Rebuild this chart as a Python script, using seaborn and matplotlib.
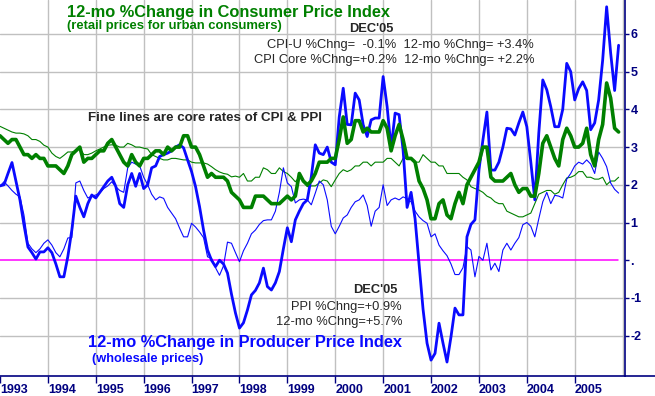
import numpy as np
import pandas as pd
import seaborn as sns
import matplotlib
matplotlib.use("Agg")
import matplotlib.pyplot as plt
from matplotlib.lines import Line2D

# 12-month % change, monthly Jan 1993 .. Dec 2005
cpi = [
    3.3, 3.2, 3.1, 3.2, 3.2, 3.0, 2.8, 2.8, 2.7, 2.8, 2.7, 2.7,
    2.5, 2.5, 2.5, 2.4, 2.3, 2.5, 2.8, 2.9, 3.0, 2.6, 2.7, 2.7,
    2.8, 2.9, 2.9, 3.1, 3.2, 3.0, 2.8, 2.6, 2.5, 2.8, 2.6, 2.5,
    2.7, 2.7, 2.8, 2.9, 2.9, 2.8, 3.0, 2.9, 3.0, 3.0, 3.3, 3.3,
    3.0, 3.0, 2.8, 2.5, 2.2, 2.3, 2.2, 2.2, 2.2, 2.1, 1.8, 1.7,
    1.6, 1.4, 1.4, 1.4, 1.7, 1.7, 1.7, 1.6, 1.5, 1.5, 1.5, 1.6,
    1.7, 1.6, 1.7, 2.3, 2.1, 2.0, 2.1, 2.3, 2.6, 2.6, 2.6, 2.7,
    2.7, 3.2, 3.8, 3.1, 3.2, 3.7, 3.7, 3.4, 3.5, 3.4, 3.4, 3.4,
    3.7, 3.5, 2.9, 3.3, 3.6, 3.2, 2.7, 2.7, 2.6, 2.1, 1.9, 1.6,
    1.1, 1.1, 1.5, 1.6, 1.2, 1.1, 1.5, 1.8, 1.5, 2.0, 2.2, 2.4,
    2.6, 3.0, 3.0, 2.2, 2.1, 2.1, 2.1, 2.2, 2.3, 2.0, 1.8, 1.9,
    1.9, 1.7, 1.7, 2.3, 3.1, 3.3, 3.0, 2.7, 2.5, 3.2, 3.5, 3.3,
    3.0, 3.0, 3.1, 3.5, 2.8, 2.5, 3.2, 3.6, 4.7, 4.3, 3.5, 3.4,
]
cpi_core = [
    3.55, 3.5, 3.45, 3.4, 3.37, 3.37, 3.35, 3.3, 3.2, 3.2, 3.15, 3.05,
    3.0, 2.84, 2.75, 2.7, 2.78, 2.87, 2.87, 2.9, 2.97, 2.8, 2.8, 2.84,
    2.9, 2.95, 3.0, 3.05, 3.06, 3.05, 3.0, 3.0, 3.1, 3.06, 3.0, 3.0,
    2.97, 2.95, 2.8, 2.75, 2.7, 2.66, 2.66, 2.7, 2.7, 2.68, 2.66, 2.66,
    2.6, 2.58, 2.58, 2.58, 2.55, 2.48, 2.4, 2.34, 2.3, 2.28, 2.21, 2.23,
    2.2, 2.3, 2.1, 2.1, 2.2, 2.2, 2.45, 2.4, 2.3, 2.3, 2.45, 2.35,
    2.3, 2.2, 2.08, 2.2, 2.1, 1.95, 1.97, 1.97, 2.05, 2.13, 2.1, 1.95,
    2.13, 2.3, 2.4, 2.35, 2.4, 2.5, 2.5, 2.6, 2.6, 2.5, 2.6, 2.6,
    2.6, 2.7, 2.7, 2.6, 2.5, 2.7, 2.7, 2.7, 2.6, 2.6, 2.8, 2.7,
    2.6, 2.6, 2.5, 2.5, 2.3, 2.3, 2.3, 2.3, 2.2, 2.13, 1.95, 1.9,
    1.86, 1.8, 1.7, 1.65, 1.55, 1.5, 1.5, 1.3, 1.25, 1.2, 1.15, 1.15,
    1.2, 1.25, 1.5, 1.75, 1.8, 1.85, 1.85, 1.75, 1.8, 2.0, 2.18, 2.2,
    2.25, 2.35, 2.35, 2.2, 2.2, 2.15, 2.15, 2.2, 2.0, 2.1, 2.1, 2.2,
]
ppi = [
    1.97, 2.0, 2.3, 2.59, 2.1, 1.6, 0.94, 0.35, 0.2, 0.03, 0.22, 0.22,
    0.33, 0.2, -0.1, -0.44, -0.44, 0.1, 0.8, 1.7, 1.4, 1.15, 1.5, 1.73,
    1.65, 1.8, 1.95, 2.1, 2.2, 1.96, 1.5, 1.4, 2.0, 2.3, 1.96, 2.3,
    1.9, 2.0, 2.45, 2.5, 2.75, 2.8, 2.84, 2.9, 3.0, 3.06, 2.98, 2.66,
    2.35, 1.95, 1.42, 0.8, 0.27, 0.0, -0.17, 0.0, -0.1, -0.34, -0.9, -1.4,
    -1.8, -1.66, -1.32, -0.92, -0.8, -0.6, -0.21, -0.7, -0.79, -0.6, -0.3, 0.3,
    0.86, 0.49, 1.07, 1.3, 1.5, 1.6, 2.21, 3.06, 2.84, 2.8, 3.0, 2.6,
    2.53, 3.8, 4.56, 3.6, 3.59, 4.43, 4.25, 3.59, 3.28, 3.72, 3.77, 3.77,
    4.87, 4.07, 2.97, 3.9, 3.86, 2.92, 1.4, 1.8, 1.1, -0.1, -1.3, -2.2,
    -2.65, -2.47, -1.67, -2.2, -2.7, -2.03, -1.27, -1.45, -1.45, 0.62, 0.95, 1.07,
    2.39, 3.19, 3.93, 2.39, 2.39, 2.6, 3.0, 3.5, 3.48, 3.32, 3.64, 3.93,
    3.54, 2.6, 1.6, 3.37, 4.78, 4.52, 4.07, 3.54, 3.54, 4.0, 5.22, 5.0,
    4.25, 4.55, 4.73, 4.5, 3.46, 3.64, 4.25, 5.3, 6.72, 5.5, 4.5, 5.7,
]
ppi_core = [
    1.97, 2.08, 1.97, 1.85, 1.75, 1.68, 1.2, 0.45, 0.3, 0.2, 0.3, 0.45,
    0.54, 0.4, 0.2, 0.09, 0.3, 0.59, 0.6, 2.05, 2.1, 1.85, 1.65, 1.7,
    1.73, 1.78, 1.9, 1.97, 2.08, 1.95, 1.85, 1.8, 2.45, 2.6, 2.55, 2.5,
    2.2, 2.0, 1.75, 1.6, 1.68, 1.64, 1.4, 1.25, 1.1, 0.85, 0.62, 0.62,
    0.98, 0.88, 0.75, 0.6, 0.09, 0.05, -0.2, -0.4, -0.15, 0.48, 0.45, 0.2,
    -0.04, 0.25, 0.45, 0.7, 0.8, 0.95, 1.05, 1.07, 1.07, 1.3, 1.8, 2.45,
    2.05, 1.95, 1.52, 1.6, 1.62, 1.6, 1.47, 1.78, 2.1, 2.0, 1.6, 0.9,
    0.7, 0.9, 1.12, 1.2, 1.4, 1.55, 1.6, 1.73, 1.45, 0.9, 1.3, 1.4,
    2.0, 1.45, 1.6, 1.65, 1.6, 1.68, 1.63, 1.55, 1.3, 1.15, 1.05, 0.98,
    0.62, 0.7, 0.4, 0.25, 0.12, -0.1, -0.38, -0.38, -0.2, 0.36, 0.27, -0.44,
    0.1, 0.0, 0.45, -0.26, -0.08, -0.3, 0.27, 0.45, 0.27, 0.45, 0.6, 0.94,
    1.0, 0.9, 0.62, 1.1, 1.55, 1.8, 1.5, 1.72, 1.7, 1.65, 2.15, 2.3,
    2.5, 2.6, 2.55, 2.66, 2.55, 2.3, 2.87, 2.7, 2.48, 2.05, 1.88, 1.78,
]
years = list(range(1993, 2006))
ytick_vals = [-2, -1, 0, 1, 2, 3, 4, 5, 6]
ytick_text = ["-2", "-1", ".", "1", "2", "3", "4", "5", "6"]

t = 1993 + np.arange(len(cpi)) / 12
df = pd.DataFrame({"t": t, "cpi": cpi, "cpi_core": cpi_core,
                   "ppi": ppi, "ppi_core": ppi_core})

sns.set_style("white")
plt.rcParams["font.family"] = ["Liberation Sans", "DejaVu Sans"]

GREEN = "#008000"
BLUE = "#0a0aff"
NAVY = "#000080"

fig = plt.figure(figsize=(6.55, 3.96), dpi=100)
ax = fig.add_axes([0, 1 - 376 / 396, 625 / 655, 376 / 396])

ax.axhline(0, color="#ff00ff", lw=1.1, xmin=0, xmax=618 / 625, zorder=1)
sns.lineplot(data=df, x="t", y="cpi_core", ax=ax, color=GREEN, lw=0.8)
sns.lineplot(data=df, x="t", y="ppi_core", ax=ax, color=BLUE, lw=0.8)
sns.lineplot(data=df, x="t", y="ppi", ax=ax, color=BLUE, lw=2.0)
sns.lineplot(data=df, x="t", y="cpi", ax=ax, color=GREEN, lw=2.6)

ax.set_xlim(1993, 2006.05)
ax.set_ylim(-3.07, 6.9)
ax.set_xlabel("")
ax.set_ylabel("")

ax.set_xticks(years)
ax.set_xticklabels([str(y) for y in years], ha="left")
ax.set_yticks(ytick_vals)
ax.set_yticklabels(ytick_text)
ax.yaxis.tick_right()
ax.tick_params(axis="x", direction="out", length=5, width=1, color=NAVY,
               labelsize=9, labelcolor=NAVY, pad=0.5, bottom=True)
ax.tick_params(axis="y", direction="out", length=3, width=1, color=NAVY,
               labelsize=9, labelcolor=NAVY, pad=1, right=True, left=False)
for lab in ax.get_xticklabels() + ax.get_yticklabels():
    lab.set_fontweight("bold")

for y in ytick_vals:
    if y != 0:
        ax.axhline(y, color="#c0c0c0", lw=1, zorder=0)
for x in years[1:] + [2006]:
    ax.axvline(x, color="#c0c0c0", lw=1, zorder=0)

for side in ["top", "left"]:
    ax.spines[side].set_visible(False)
for side in ["bottom", "right"]:
    ax.spines[side].set_color(NAVY)
    ax.spines[side].set_linewidth(1.2)
fig.add_artist(Line2D([625 / 655, 1], [1 - 376 / 396] * 2, color=NAVY, lw=1.2))


def px(x, y):
    return x / 655, 1 - y / 396


fig.text(*px(67, 12), "12-mo %Change in Consumer Price Index", color=GREEN,
         fontsize=11.8, fontweight="bold", va="center")
fig.text(*px(67, 26), "(retail prices for urban consumers)", color=GREEN,
         fontsize=9.4, fontweight="bold", va="center")
fig.text(*px(393, 29), "DEC'05", fontsize=9.3, fontweight="bold", ha="right", va="center")
fig.text(*px(534, 45), "CPI-U %Chng=  -0.1%  12-mo %Chng= +3.4%",
         fontsize=9.3, ha="right", va="center")
fig.text(*px(534, 60), "CPI Core %Chng=+0.2%  12-mo %Chng= +2.2%",
         fontsize=9.3, ha="right", va="center")
fig.text(*px(88, 118), "Fine lines are core rates of CPI & PPI",
         fontsize=9.6, fontweight="bold", va="center")
fig.text(*px(398, 290), "DEC'05", fontsize=9.3, fontweight="bold", ha="right", va="center")
fig.text(*px(402, 307), "PPI %Chng=+0.9%", fontsize=9.3, ha="right", va="center")
fig.text(*px(402, 322), "12-mo %Chng=+5.7%", fontsize=9.3, ha="right", va="center")
fig.text(*px(88, 342), "12-mo %Change in Producer Price Index", color=BLUE,
         fontsize=11.8, fontweight="bold", va="center")
fig.text(*px(92, 359), "(wholesale prices)", color=BLUE,
         fontsize=9.3, fontweight="bold", va="center")

fig.savefig("out.png", dpi=100)
